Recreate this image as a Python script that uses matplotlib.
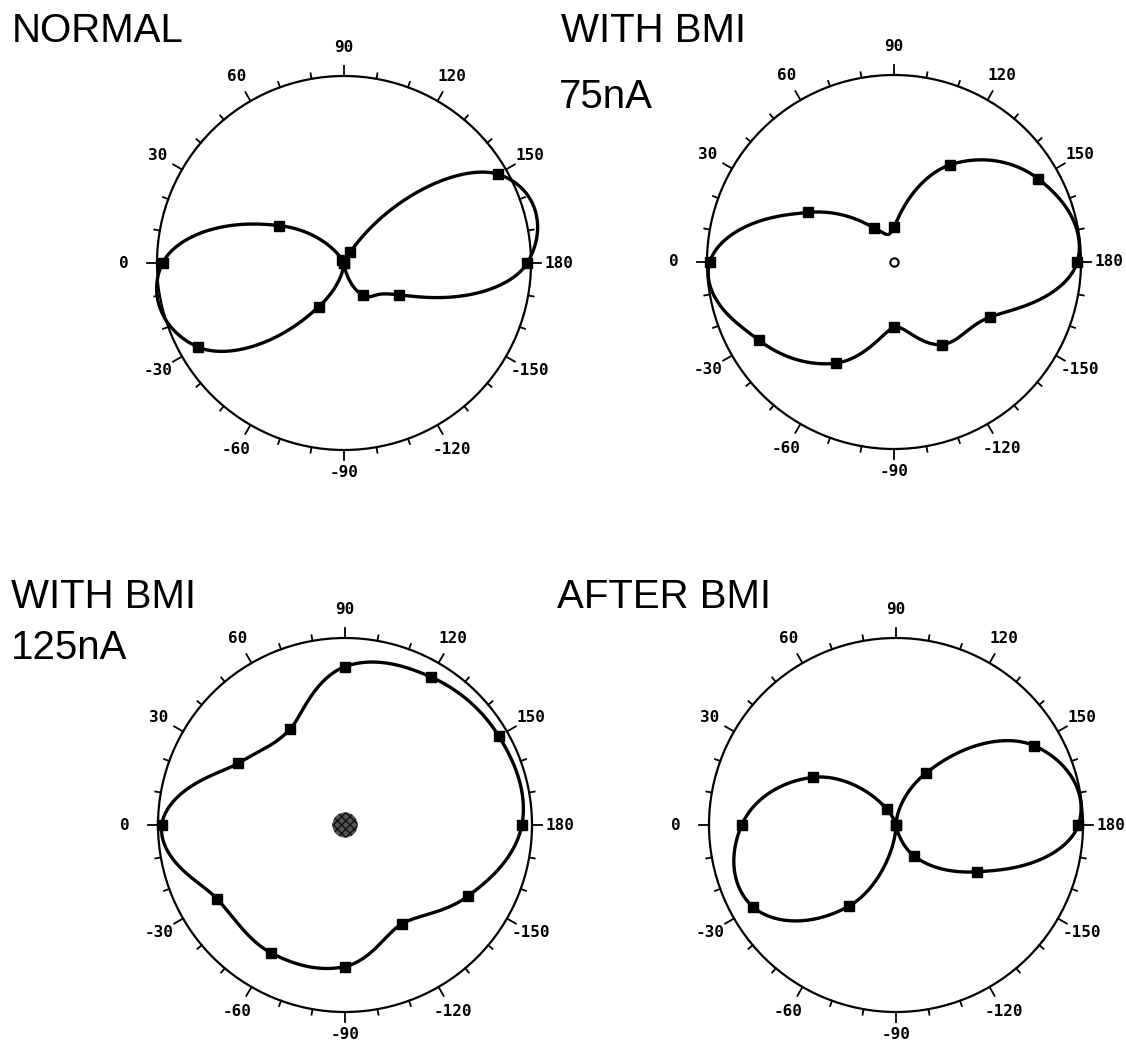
#polar response plots for four conditions
import numpy as np
import matplotlib
matplotlib.use('Agg')
import matplotlib.pyplot as plt

#angles of the measured points (0 on the left, 90 on top)
angles = [0, 30, 60, 90, 120, 150, 180, -150, -120, -90, -60, -30]

#normalised response at each angle
normal_r = [0.97, 0.40, 0.02, 0.0, 0.066, 0.95, 0.98, 0.34, 0.20, 0.0, 0.27, 0.90]
bmi75_r = [0.985, 0.53, 0.21, 0.187, 0.60, 0.89, 0.98, 0.59, 0.51, 0.35, 0.625, 0.835]
bmi125_r = [0.98, 0.66, 0.59, 0.847, 0.915, 0.95, 0.946, 0.76, 0.61, 0.757, 0.79, 0.79]
after_r = [0.825, 0.51, 0.097, 0.0, 0.32, 0.85, 0.975, 0.50, 0.19, 0.0, 0.50, 0.88]

tick_labels = ['0', '30', '60', '90', '120', '150', '180',
               '-150', '-120', '-90', '-60', '-30']


def smooth(r):
    #closed catmull-rom curve of r against angle, for the drawn line
    y = np.array(r, dtype=float)
    n = len(y)
    h = 360.0 / n
    m = (np.roll(y, -1) - np.roll(y, 1)) / 2
    t = np.linspace(0, 360, 1441)
    i = np.floor(t / h).astype(int) % n
    j = (i + 1) % n
    s = t / h - np.floor(t / h)
    out = ((2 * s**3 - 3 * s**2 + 1) * y[i] + (s**3 - 2 * s**2 + s) * m[i]
           + (-2 * s**3 + 3 * s**2) * y[j] + (s**3 - s**2) * m[j])
    th = t.copy()
    neg = out < 0
    th[neg] += 180
    return np.radians(th), np.abs(out)


def draw(ax, r):
    ax.set_theta_zero_location('W')
    ax.set_theta_direction(-1)
    ax.set_ylim(0, 1)
    ax.grid(False)
    ax.set_xticks([])
    ax.set_yticks([])
    ax.spines['polar'].set_linewidth(1.6)

    #tick marks every 10 degrees, longer every 30
    for a in range(0, 360, 10):
        ln = 0.055 if a % 30 == 0 else 0.03
        ax.plot([np.radians(a)] * 2, [1, 1 + ln], color='k', lw=1.3, clip_on=False)
    for a, lab in zip(angles, tick_labels):
        rr = 1.15
        if a == 0:
            rr = 1.18
        if a == -90:
            rr = 1.12
        ax.text(np.radians(a), rr, lab, ha='center', va='center',
                family='DejaVu Sans Mono', fontweight='bold', fontsize=11.5)

    th, rs = smooth(r)
    ax.plot(th, rs, color='k', lw=2.4, clip_on=False)
    ax.plot(np.radians(angles), r, 's', color='k', ms=6.5, clip_on=False)


def main():
    fig = plt.figure(figsize=(11.26, 10.41), dpi=100)
    w = 374 / 1126
    hgt = 374 / 1041
    centers = [(344, 263), (894, 262), (345, 825), (896, 825)]
    data = [normal_r, bmi75_r, bmi125_r, after_r]
    axes = []
    for (cx, cy), r in zip(centers, data):
        ax = fig.add_axes([(cx - 187) / 1126, 1 - (cy + 187) / 1041, w, hgt],
                          projection='polar')
        draw(ax, r)
        axes.append(ax)

    #centre marks
    axes[1].plot([0], [0], 'o', ms=6, mfc='white', mec='k', mew=1.5)
    axes[2].scatter([0], [0], s=330, facecolor='#555555', edgecolor='#111111',
                    hatch='xxxx', lw=0, zorder=3)

    #titles
    tf = dict(family='Liberation Sans', fontsize=29, va='baseline', ha='left')
    fig.text(12 / 1126, 1 - 42 / 1041, 'NORMAL', **tf)
    fig.text(561 / 1126, 1 - 42 / 1041, 'WITH BMI', **tf)
    fig.text(559 / 1126, 1 - 108 / 1041, '75nA', **tf)
    fig.text(11 / 1126, 1 - 608 / 1041, 'WITH BMI', **tf)
    fig.text(11 / 1126, 1 - 659 / 1041, '125nA', **tf)
    fig.text(557 / 1126, 1 - 608 / 1041, 'AFTER BMI', **tf)

    fig.savefig('out.png', dpi=100)


main()
